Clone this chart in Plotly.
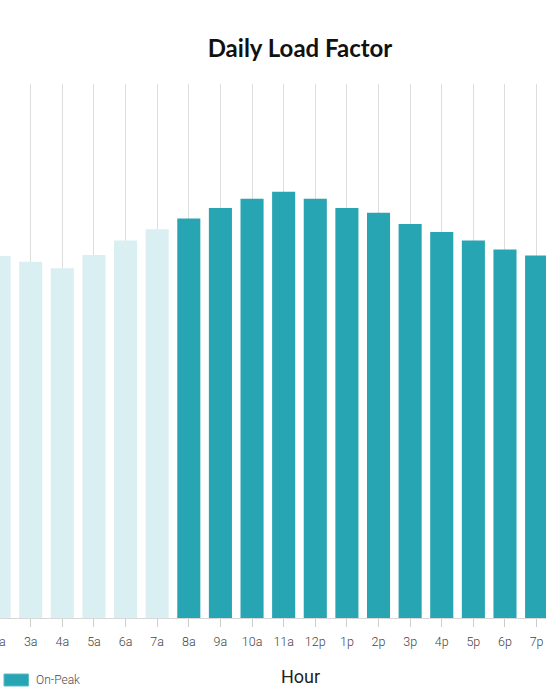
import plotly.graph_objects as go

hours = ["12a", "1a", "2a", "3a", "4a", "5a", "6a", "7a", "8a", "9a", "10a", "11a",
         "12p", "1p", "2p", "3p", "4p", "5p", "6p", "7p", "8p", "9p", "10p", "11p"]

offpeak_hours = ["12a", "1a", "2a", "3a", "4a", "5a", "6a", "7a", "8p", "9p", "10p", "11p"]
offpeak_values = [70.0, 69.0, 67.8, 66.7, 65.5, 68.0, 70.7, 72.8, 67.0, 66.5, 67.5, 69.0]

onpeak_hours = ["8a", "9a", "10a", "11a", "12p", "1p", "2p", "3p", "4p", "5p", "6p", "7p"]
onpeak_values = [74.8, 76.8, 78.5, 79.8, 78.5, 76.8, 75.9, 73.8, 72.3, 70.7, 69.0, 67.9]

W, H = 546, 699
TEAL = "#27a5b2"
LIGHT = "#daeff2"
TICKFONT = dict(family="Roboto", size=12.5, color="#444444", weight=300)

fig = go.Figure()
fig.add_trace(go.Bar(x=offpeak_hours, y=offpeak_values, name="Off-Peak",
                     marker=dict(color=LIGHT, line=dict(width=0)), showlegend=False))
fig.add_trace(go.Bar(x=onpeak_hours, y=onpeak_values, name="On-Peak",
                     marker=dict(color=TEAL, line=dict(width=0)), showlegend=False))

plot_top, plot_bot = 84, 618
ph = plot_bot - plot_top
x_lo, x_hi = 2.029, 19.297


def py(pix):
    return (plot_bot - pix) / ph


fig.update_layout(
    width=W, height=H,
    margin=dict(l=0, r=0, t=plot_top, b=H - plot_bot, pad=0, autoexpand=False),
    paper_bgcolor="white", plot_bgcolor="white",
    barmode="overlay", bargap=0.27,
    title=dict(text="<b>Daily Load Factor</b>", x=300 / W, xanchor="center",
               xref="paper", yref="container", y=1 - 49 / H, yanchor="middle",
               font=dict(family="Lato", size=24, color="#111111")),
    xaxis=dict(type="category", categoryorder="array", categoryarray=hours,
               range=[x_lo, x_hi],
               showgrid=True, gridcolor="#dddddd", gridwidth=1,
               showline=True, linecolor="#d8d8d8", linewidth=1,
               ticks="outside", ticklen=8, tickcolor="#cccccc", tickwidth=1,
               ticklabelstandoff=4,
               tickfont=TICKFONT),
    yaxis=dict(range=[0, 100], visible=False, showgrid=False, zeroline=False),
    showlegend=False,
)

# partially visible tick label of the category just left of the visible range
idx_2a = hours.index("2a")
fig.add_annotation(text="2a", x=(idx_2a - x_lo) / (x_hi - x_lo), y=py(641),
                   xref="paper", yref="paper", xanchor="center", yanchor="middle",
                   showarrow=False, font=TICKFONT)

# axis title "Hour"
fig.add_annotation(text="Hour", x=300 / W, y=py(676), xref="paper", yref="paper",
                   xanchor="center", yanchor="middle", showarrow=False,
                   font=dict(family="Roboto", size=18, color="#222222"))
# legend (custom, matches swatch shape)
fig.add_shape(type="rect", xref="paper", yref="paper",
              x0=4 / W, x1=28.5 / W, y0=py(686), y1=py(674),
              fillcolor=TEAL, line=dict(color="#5bbcc6", width=1))
fig.add_annotation(text="On-Peak", x=34 / W, y=py(680), xref="paper", yref="paper",
                   xanchor="left", yanchor="middle", showarrow=False,
                   font=dict(family="Roboto", size=12, color="#4a4a4a", weight=300))

fig.write_html("out.html", config={"displayModeBar": False},
               post_script="document.body.style.margin='0';")
